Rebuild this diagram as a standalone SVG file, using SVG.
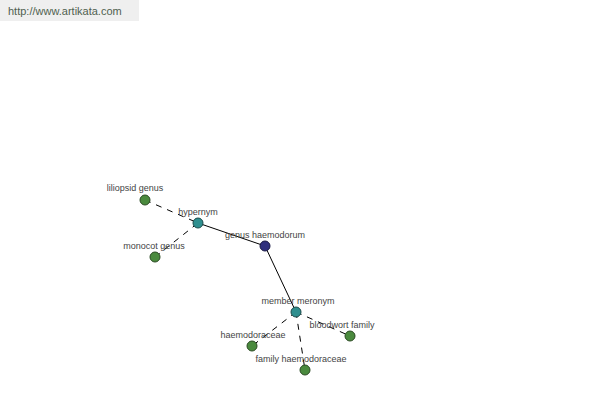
<svg xmlns="http://www.w3.org/2000/svg" width="600" height="400" viewBox="0 0 600 400">
<style>
.lbl{font-family:"Liberation Sans",Arial,sans-serif;font-size:9px;fill:#444;text-anchor:middle}
.solid{stroke:#000;stroke-width:1;fill:none}
.dash{stroke:#000;stroke-width:1;fill:none;stroke-dasharray:6,6}
.g{fill:#4a8a3e;stroke:#2a4a22;stroke-width:1}
.t{fill:#2f8f8f;stroke:#1a4a4a;stroke-width:1}
.b{fill:#30307e;stroke:#1a1a44;stroke-width:1}
</style>
<rect x="0" y="0" width="139" height="21" fill="#efefef"/>
<text x="8" y="15" font-family="Liberation Sans,Arial,sans-serif" font-size="11" fill="#4f5f4f">http://www.artikata.com</text>
<g id="connectors">
<line class="dash" x1="145" y1="200" x2="198" y2="223"/>
<line class="dash" x1="155" y1="257" x2="198" y2="223"/>
<line class="solid" x1="198" y1="223" x2="265" y2="246"/>
<line class="solid" x1="265" y1="246" x2="296" y2="312"/>
<line class="dash" x1="296" y1="312" x2="252" y2="346"/>
<line class="dash" x1="296" y1="312" x2="350" y2="336"/>
<line class="dash" x1="296" y1="312" x2="305" y2="370"/>
</g>
<g id="liliopsid"><circle class="g" cx="145" cy="200" r="5"/><text class="lbl" x="135" y="191">liliopsid genus</text></g>
<g id="hypernym"><circle class="t" cx="198" cy="223" r="5"/><text class="lbl" x="198" y="215">hypernym</text></g>
<g id="genus"><circle class="b" cx="265" cy="246" r="5"/><text class="lbl" x="265" y="238">genus haemodorum</text></g>
<g id="monocot"><circle class="g" cx="155" cy="257" r="5"/><text class="lbl" x="154" y="249">monocot genus</text></g>
<g id="member"><circle class="t" cx="296" cy="312" r="5"/><text class="lbl" x="298" y="304">member meronym</text></g>
<g id="haemodoraceae"><circle class="g" cx="252" cy="346" r="5"/><text class="lbl" x="253" y="338">haemodoraceae</text></g>
<g id="bloodwort"><circle class="g" cx="350" cy="336" r="5"/><text class="lbl" x="342" y="328">bloodwort family</text></g>
<g id="family"><circle class="g" cx="305" cy="370" r="5"/><text class="lbl" x="301" y="362">family haemodoraceae</text></g>
</svg>
